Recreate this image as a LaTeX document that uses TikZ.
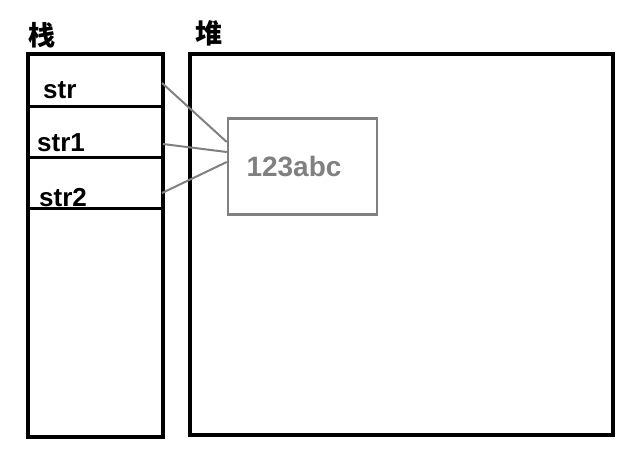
\documentclass[tikz,border=0pt]{standalone}
\usepackage{fontspec}
\setmainfont{Liberation Sans}
\newfontfamily\cjk{Noto Sans CJK SC}
\usepackage{tikz}

\tikzset{
  frame/.style={draw=black, line width=4pt},
  rowline/.style={draw=black, line width=3pt},
  varname/.style={anchor=base west, inner sep=0pt, font=\bfseries\fontsize{26}{26}\selectfont},
  title/.style={inner sep=0pt, font=\cjk\bfseries\fontsize{27}{27}\selectfont},
  object/.style={draw=gray, line width=2.5pt, text=gray, minimum width=149pt, minimum height=96pt,
    inner sep=0pt, font=\bfseries\fontsize{28}{28}\selectfont},
  ref/.style={draw=gray, line width=2pt}
}

\begin{document}
\begin{tikzpicture}[x=1pt,y=-1pt]
			\useasboundingbox (0,0) rectangle (643,456);
			% 栈と堆の枠
			\draw[frame] (28,54) rectangle (163,437);
			\draw[frame] (189.5,54) rectangle (612.5,435);
			\node[title] (stacktitle) at (42,35.5) {栈};
			\node[title] (heaptitle) at (208.5,33) {堆};
			% 栈の区切り線
			\draw[rowline] (28,106)--(163,106);
			\draw[rowline] (28,157.5)--(163,157.5);
			\draw[rowline] (28,208.5)--(163,208.5);
			% 変数名
			\node[varname] (str) at (43,98) {str};
			\node[varname] (strone) at (37,151) {str1};
			\node[varname] (strtwo) at (39,206) {str2};
			% 堆の中のオブジェクト
			\node[object] (obj) at (302.5,166.5) {\hspace*{-17pt}123abc};
			% 参照の点
			\coordinate (ref_str) at (162,83);
			\coordinate (ref_strone) at (163,144);
			\coordinate (ref_strtwo) at (162,193);
			% 参照線の描画
			\draw[ref] (ref_str)--([yshift=24.5pt]obj.west);
			\draw[ref] (ref_strone)--([yshift=14.5pt]obj.west);
			\draw[ref] (ref_strtwo)--([yshift=4.5pt]obj.west);
		\end{tikzpicture}
\end{document}
